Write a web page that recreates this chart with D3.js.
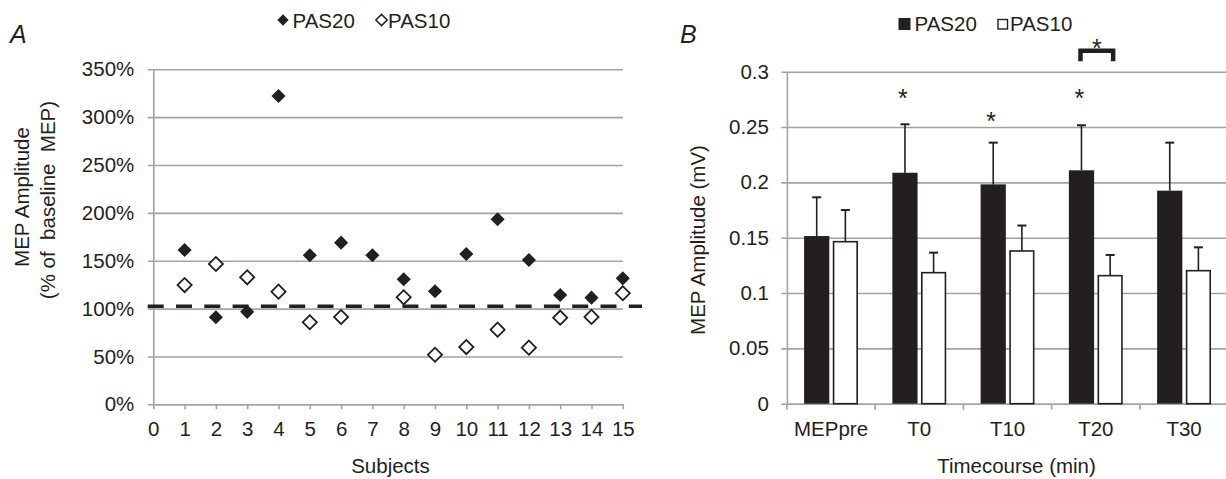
<!DOCTYPE html>
<html lang="en">
<head>
    <meta charset="UTF-8">
    <title>PAS20 vs PAS10 MEP amplitude</title>
    <script src="https://d3js.org/d3.v7.min.js"></script>
    <style>
        body {
            margin: 0;
            background: #fff;
        }
        svg text {
            font-family: "Liberation Sans", Arial, sans-serif;
            fill: #231f20;
        }
    </style>
</head>
<body>
    <svg id="chart" width="1226" height="479"></svg>
    <script>
        // Panel A: individual subjects, % of baseline MEP
        const subjects = [1, 2, 3, 4, 5, 6, 7, 8, 9, 10, 11, 12, 13, 14, 15];
        const pas20Pct = [1.612, 0.909, 0.966, 3.221, 1.557, 1.689, 1.557, 1.306, 1.181, 1.570, 1.933, 1.508, 1.142, 1.114, 1.316];
        const pas10Pct = [1.246, 1.466, 1.327, 1.177, 0.857, 0.912, null, 1.118, 0.518, 0.598, 0.780, 0.592, 0.905, 0.913, 1.160];
        const baselineLevel = 1.025;
        const pctTicks = [0, 0.5, 1, 1.5, 2, 2.5, 3, 3.5];

        // Panel B: group means with SE (upward only)
        const timepoints = ["MEPpre", "T0", "T10", "T20", "T30"];
        const pas20Mean = [0.1515, 0.2087, 0.1982, 0.2109, 0.1925];
        const pas20Err = [0.0350, 0.0438, 0.0377, 0.0407, 0.0434];
        const pas10Mean = [0.1464, 0.1184, 0.1380, 0.1157, 0.1202];
        const pas10Err = [0.0286, 0.0181, 0.0230, 0.0187, 0.0211];
        const ampTicks = [0, 0.05, 0.1, 0.15, 0.2, 0.25, 0.3];
        const starLevel = [null, 0.281, 0.260, 0.281, null];   // * above PAS20 bars
        const bracketAt = "T20";
        const bracketLevel = 0.319;

        const ink = "#231f20";
        const gridColor = "#a3a3a3";
        const fontSize = "20.5px";

        const svg = d3.select("#chart");

        // ---------------- Panel A ----------------
        const gA = svg.append("g");
        const xA = d3.scaleLinear().domain([0, 15]).range([153.3, 622.8]);
        const yA = d3.scaleLinear().domain([0, 3.5]).range([404.3, 69.3]);

        const yAxisA = d3.axisLeft(yA)
            .tickValues(pctTicks)
            .tickFormat(d3.format(".0%"))
            .tickSizeInner(-(xA(15) - xA(0)))
            .tickSizeOuter(0)
            .tickPadding(19);
        const yAxA = gA.append("g")
            .attr("transform", `translate(${xA(0)},0)`)
            .call(yAxisA);
        yAxA.select(".domain").attr("stroke", gridColor).attr("stroke-width", 1.6);
        yAxA.selectAll(".tick line").attr("x1", -5.6).attr("stroke", gridColor).attr("stroke-width", 1.6);
        yAxA.selectAll("text").style("font-size", fontSize).attr("fill", ink);

        const xAxisA = d3.axisBottom(xA)
            .tickValues(d3.range(0, 16))
            .tickFormat(d3.format("d"))
            .tickSizeInner(5)
            .tickSizeOuter(0)
            .tickPadding(12.5);
        const xAxA = gA.append("g")
            .attr("transform", `translate(0,${yA(0)})`)
            .call(xAxisA);
        xAxA.select(".domain").attr("stroke", gridColor).attr("stroke-width", 1.6);
        xAxA.selectAll(".tick line").attr("stroke", gridColor).attr("stroke-width", 1.6);
        xAxA.selectAll("text").style("font-size", fontSize).attr("fill", ink);

        // dashed baseline
        gA.append("line")
            .attr("x1", xA(0) - 5.6)
            .attr("x2", 642)
            .attr("y1", yA(baselineLevel))
            .attr("y2", yA(baselineLevel))
            .attr("stroke", ink)
            .attr("stroke-width", 3.5)
            .attr("stroke-dasharray", "16,12.3");

        const diamond = d3.symbol().type(d3.symbolSquare).size(100);
        const diamondSmall = d3.symbol().type(d3.symbolSquare).size(64);

        gA.selectAll(".p20")
            .data(subjects.map((s, i) => ({ s, v: pas20Pct[i] })))
            .enter()
            .append("path")
            .attr("d", diamond)
            .attr("transform", d => `translate(${xA(d.s)},${yA(d.v)}) rotate(45)`)
            .attr("fill", ink);

        gA.selectAll(".p10")
            .data(subjects.map((s, i) => ({ s, v: pas10Pct[i] })).filter(d => d.v != null))
            .enter()
            .append("path")
            .attr("d", diamond)
            .attr("transform", d => `translate(${xA(d.s)},${yA(d.v)}) rotate(45)`)
            .attr("fill", "#fff")
            .attr("stroke", ink)
            .attr("stroke-width", 1.8);

        gA.append("text")
            .attr("x", 390.5)
            .attr("y", 473)
            .attr("text-anchor", "middle")
            .style("font-size", fontSize)
            .text("Subjects");

        gA.append("text")
            .attr("transform", "translate(29,197) rotate(-90)")
            .attr("text-anchor", "middle")
            .style("font-size", fontSize)
            .text("MEP Amplitude");
        gA.append("text")
            .attr("transform", "translate(55,200) rotate(-90)")
            .attr("text-anchor", "middle")
            .style("font-size", fontSize)
            .style("white-space", "pre")
            .text("(% of  baseline  MEP)");

        // legend A
        gA.append("path").attr("d", diamondSmall)
            .attr("transform", "translate(283,20) rotate(45)").attr("fill", ink);
        gA.append("text").attr("x", 292.5).attr("y", 27.5).style("font-size", fontSize).text("PAS20");
        gA.append("path").attr("d", diamondSmall)
            .attr("transform", "translate(381.5,20) rotate(45)")
            .attr("fill", "#fff").attr("stroke", ink).attr("stroke-width", 1.5);
        gA.append("text").attr("x", 388).attr("y", 27.5).style("font-size", fontSize).text("PAS10");

        gA.append("text")
            .attr("x", 10)
            .attr("y", 43)
            .style("font-size", "25px")
            .style("font-style", "italic")
            .text("A");

        // ---------------- Panel B ----------------
        const gB = svg.append("g");
        const xB = d3.scaleBand().domain(timepoints).range([786.9, 1228.2]);
        const xIn = d3.scaleBand().domain(["PAS20", "PAS10"])
            .range([0, xB.bandwidth()])
            .paddingInner(0.12)
            .paddingOuter(0.6);
        const yB = d3.scaleLinear().domain([0, 0.3]).range([403.7, 71.7]);

        const yAxisB = d3.axisLeft(yB)
            .tickValues(ampTicks)
            .tickFormat(d => String(+d.toFixed(2)))
            .tickSizeInner(-(1228.2 - 786.9))
            .tickSizeOuter(0)
            .tickPadding(18);
        const yAxB = gB.append("g")
            .attr("transform", `translate(${xB.range()[0]},0)`)
            .call(yAxisB);
        yAxB.select(".domain").attr("stroke", gridColor).attr("stroke-width", 1.6);
        yAxB.selectAll(".tick line").attr("x1", -5.6).attr("stroke", gridColor).attr("stroke-width", 1.6);
        yAxB.selectAll("text").style("font-size", fontSize).attr("fill", ink);

        const xAxisB = d3.axisBottom(xB).tickSize(0).tickPadding(18);
        const xAxB = gB.append("g")
            .attr("transform", `translate(0,${yB(0)})`)
            .call(xAxisB);
        xAxB.select(".domain").attr("stroke", gridColor).attr("stroke-width", 1.6);
        xAxB.selectAll("text").style("font-size", fontSize).attr("fill", ink);
        // category boundary ticks
        gB.selectAll(".btick")
            .data(timepoints)
            .enter()
            .append("line")
            .attr("x1", d => xB(d))
            .attr("x2", d => xB(d))
            .attr("y1", yB(0))
            .attr("y2", yB(0) + 6)
            .attr("stroke", gridColor)
            .attr("stroke-width", 1.6);

        const bars = timepoints.flatMap((t, i) => [
            { t, s: "PAS20", v: pas20Mean[i], e: pas20Err[i] },
            { t, s: "PAS10", v: pas10Mean[i], e: pas10Err[i] }
        ]);
        const barX = d => xB(d.t) + xIn(d.s);
        const barMid = d => barX(d) + xIn.bandwidth() / 2;

        // error bars first, bars drawn over the stems
        gB.selectAll(".err")
            .data(bars)
            .enter()
            .append("line")
            .attr("x1", barMid)
            .attr("x2", barMid)
            .attr("y1", d => yB(d.v))
            .attr("y2", d => yB(d.v + d.e))
            .attr("stroke", ink)
            .attr("stroke-width", 1.6);
        gB.selectAll(".cap")
            .data(bars)
            .enter()
            .append("line")
            .attr("x1", d => barMid(d) - 4.5)
            .attr("x2", d => barMid(d) + 4.5)
            .attr("y1", d => yB(d.v + d.e))
            .attr("y2", d => yB(d.v + d.e))
            .attr("stroke", ink)
            .attr("stroke-width", 2);

        gB.selectAll(".bar")
            .data(bars)
            .enter()
            .append("rect")
            .attr("x", d => d.s === "PAS20" ? barX(d) : barX(d) + 0.8)
            .attr("width", d => d.s === "PAS20" ? xIn.bandwidth() : xIn.bandwidth() - 1.6)
            .attr("y", d => yB(d.v))
            .attr("height", d => yB(0) - yB(d.v))
            .attr("fill", d => d.s === "PAS20" ? ink : "#fff")
            .attr("stroke", d => d.s === "PAS20" ? "none" : ink)
            .attr("stroke-width", 1.6);

        // significance stars
        gB.selectAll(".star")
            .data(timepoints.map((t, i) => ({ t, s: "PAS20", v: starLevel[i] })).filter(d => d.v != null))
            .enter()
            .append("text")
            .attr("x", d => barMid(d) - 2)
            .attr("y", d => yB(d.v) + 14)
            .attr("text-anchor", "middle")
            .style("font-size", "25px")
            .text("*");

        const bl = barMid({ t: bracketAt, s: "PAS20" }) - 1;
        const br = barMid({ t: bracketAt, s: "PAS10" }) + 3;
        gB.append("path")
            .attr("d", `M${bl},${yB(bracketLevel - 0.0095)} V${yB(bracketLevel)} H${br} V${yB(bracketLevel - 0.0095)}`)
            .attr("fill", "none")
            .attr("stroke", ink)
            .attr("stroke-width", 4.5);
        gB.append("text")
            .attr("x", (bl + br) / 2)
            .attr("y", yB(bracketLevel) + 6)
            .attr("text-anchor", "middle")
            .style("font-size", "25px")
            .text("*");

        gB.append("text")
            .attr("x", 1016.5)
            .attr("y", 473)
            .attr("text-anchor", "middle")
            .style("font-size", fontSize)
            .text("Timecourse (min)");

        gB.append("text")
            .attr("transform", "translate(705,240) rotate(-90)")
            .attr("text-anchor", "middle")
            .style("font-size", fontSize)
            .text("MEP Amplitude (mV)");

        // legend B
        gB.append("rect").attr("x", 898.5).attr("y", 18).attr("width", 12).attr("height", 12).attr("fill", ink);
        gB.append("text").attr("x", 914.5).attr("y", 31).style("font-size", fontSize).text("PAS20");
        gB.append("rect").attr("x", 998).attr("y", 19.5).attr("width", 9.5).attr("height", 9.5)
            .attr("fill", "#fff").attr("stroke", ink).attr("stroke-width", 1.4);
        gB.append("text").attr("x", 1010).attr("y", 31).style("font-size", fontSize).text("PAS10");

        gB.append("text")
            .attr("x", 680)
            .attr("y", 43)
            .style("font-size", "25px")
            .style("font-style", "italic")
            .text("B");
    </script>
</body>
</html>
